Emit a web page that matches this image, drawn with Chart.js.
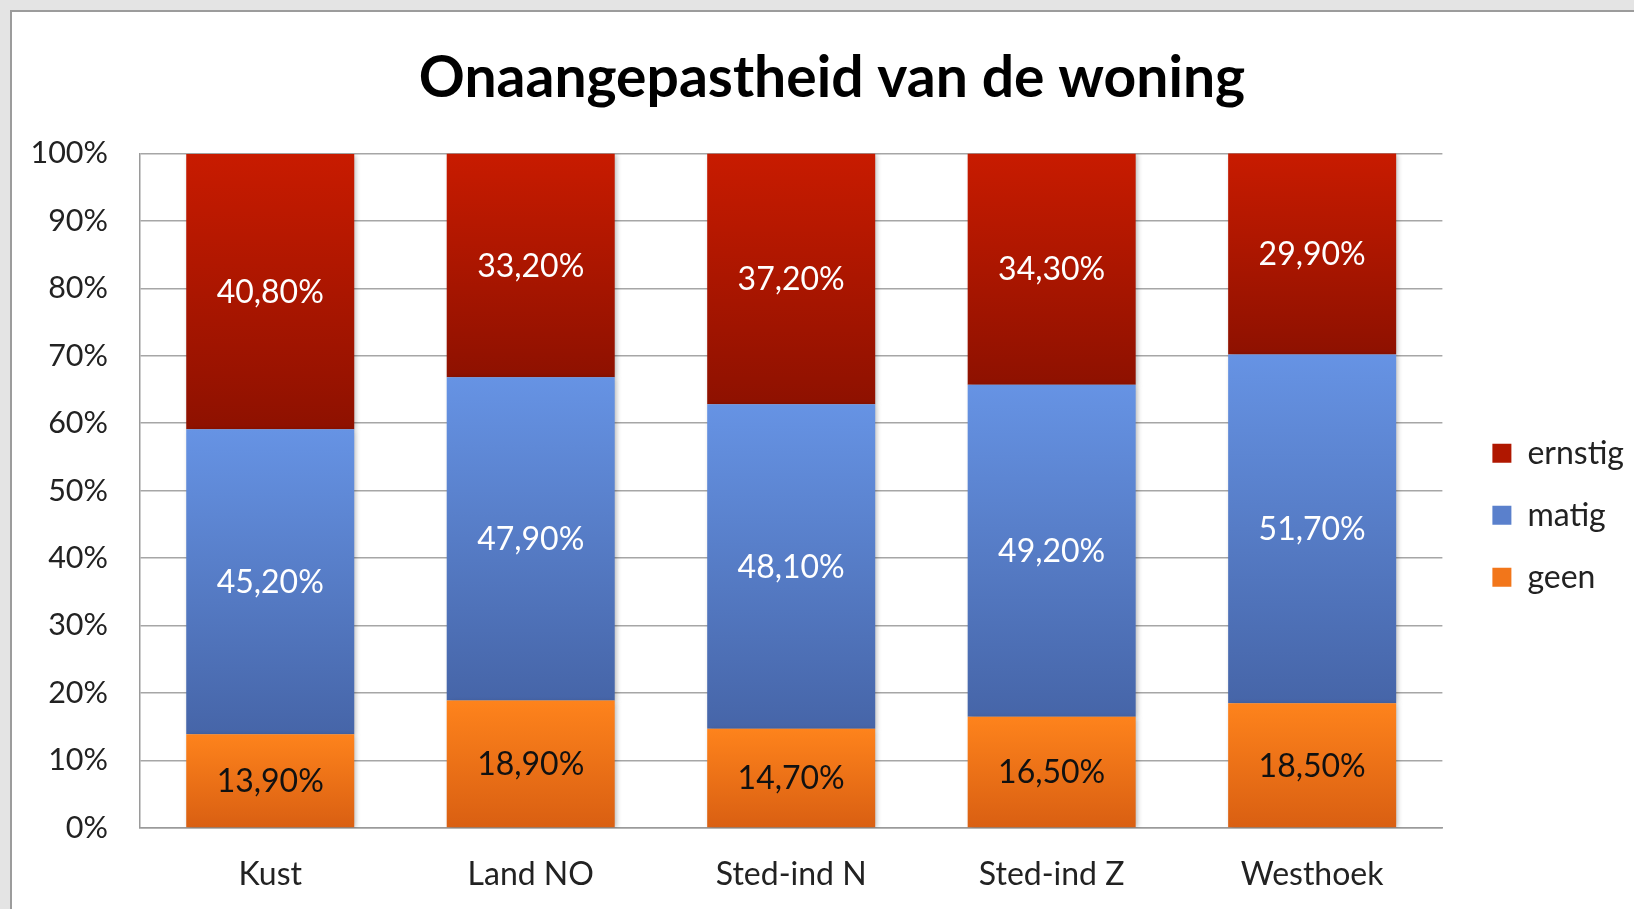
<!DOCTYPE html>
<html>
<head>
<meta charset="utf-8">
<title>Onaangepastheid van de woning</title>
<script src="https://cdn.jsdelivr.net/npm/chart.js@4.4.1/dist/chart.umd.min.js"></script>
<style>
  html, body { margin: 0; padding: 0; background: #e4e4e4; overflow: hidden; }
  .frame { position: absolute; left: 10px; top: 10px; width: 1650px; height: 930px; background: #fff; border: 2px solid #9c9c9c; }
  #chart { position: absolute; left: 0; top: 0; }
</style>
</head>
<body>
<div class="frame"></div>
<canvas id="chart" width="1634" height="909"></canvas>
<script>
/* ----- data ----- */
const regions = ["Kust", "Land NO", "Sted-ind N", "Sted-ind Z", "Westhoek"];
const seriesNames = ["geen", "matig", "ernstig"];
const geen = [13.9, 18.9, 14.7, 16.5, 18.5];
const matig = [45.2, 47.9, 48.1, 49.2, 51.7];
const ernstig = [40.8, 33.2, 37.2, 34.3, 29.9];
const seriesValues = [geen, matig, ernstig];
const yTicks = [0, 10, 20, 30, 40, 50, 60, 70, 80, 90, 100];

/* ----- styling ----- */
const FONT = "Lato, 'Open Sans', sans-serif";
const gradientStops = [
  ["#fe831c", "#d95f12"],   // geen
  ["#6693e4", "#4665a8"],   // matig
  ["#c81b00", "#8e1100"]    // ernstig
];
const legendColors = ["#f2761a", "#5a80cc", "#b01700"];
const labelColors = ["#111111", "#ffffff", "#ffffff"];

// vertical gradient per segment, from its own top to its own bottom
const segmentGradient = (ctx) => {
  const { chart, datasetIndex, dataIndex } = ctx;
  const stops = gradientStops[datasetIndex];
  const y = chart.scales.y;
  if (!y || dataIndex === undefined) return stops[0];
  let start = 0;
  for (let i = 0; i < datasetIndex; i++) start += seriesValues[i][dataIndex];
  const end = Math.min(start + seriesValues[datasetIndex][dataIndex], 100);
  const top = y.getPixelForValue(end);
  const bottom = y.getPixelForValue(start);
  if (!isFinite(top) || !isFinite(bottom) || top === bottom) return stops[0];
  const g = chart.ctx.createLinearGradient(0, top, 0, bottom);
  g.addColorStop(0, stops[0]);
  g.addColorStop(1, stops[1]);
  return g;
};

const formatPct = (v) => v.toFixed(2).replace(".", ",") + "%";

// soft Excel-like shadow behind the bars
const barShadow = {
  id: "barShadow",
  beforeDatasetsDraw(chart) {
    const c = chart.ctx;
    c.save();
    c.shadowColor = "rgba(0,0,0,0.28)";
    c.shadowBlur = 5;
    c.shadowOffsetX = 2;
    c.shadowOffsetY = 1;
  },
  afterDatasetsDraw(chart) {
    chart.ctx.restore();
  }
};

// values in the middle of every segment
const segmentLabels = {
  id: "segmentLabels",
  afterDatasetsDraw(chart) {
    const c = chart.ctx;
    c.save();
    c.font = "32px " + FONT;
    c.textAlign = "center";
    c.textBaseline = "middle";
    chart.data.datasets.forEach((ds, di) => {
      const meta = chart.getDatasetMeta(di);
      c.fillStyle = labelColors[di];
      meta.data.forEach((bar, i) => {
        const top = Math.max(bar.y, chart.chartArea.top);
        c.fillText(formatPct(ds.data[i]), bar.x, (top + bar.base) / 2 + 1);
      });
    });
    c.restore();
  }
};

const datasets = seriesNames.map((name, i) => ({
  label: name,
  data: seriesValues[i],
  backgroundColor: segmentGradient,
  borderWidth: 0,
  categoryPercentage: 1,
  barPercentage: 0.645
}));

new Chart(document.getElementById("chart"), {
  type: "bar",
  data: { labels: regions, datasets },
  plugins: [barShadow, segmentLabels],
  options: {
    responsive: false,
    animation: false,
    events: [],
    layout: { padding: { top: 0, right: 0, bottom: 0, left: 30 } },
    plugins: {
      tooltip: { enabled: false },
      title: {
        display: true,
        text: "Onaangepastheid van de woning",
        color: "#000",
        font: { family: FONT, size: 57, weight: "bold" },
        padding: { top: 44, bottom: 41 }
      },
      legend: {
        position: "right",
        fullSize: false,
        reverse: true,
        title: { display: true, text: "", font: { size: 1 }, padding: { top: 0, bottom: 48 } },
        labels: {
          color: "#222",
          font: { family: FONT, size: 32 },
          boxWidth: 19,
          boxHeight: 19,
          padding: 30,
          generateLabels(chart) {
            const items = Chart.defaults.plugins.legend.labels.generateLabels(chart);
            items.forEach((item) => {
              item.fillStyle = legendColors[item.datasetIndex];
              item.strokeStyle = legendColors[item.datasetIndex];
              item.lineWidth = 0;
            });
            return items;
          }
        }
      }
    },
    scales: {
      x: {
        stacked: true,
        grid: { display: false },
        border: { display: true, color: "#9a9a9a", width: 1.5 },
        ticks: { color: "#222", font: { family: FONT, size: 32 }, padding: 19 },
        afterFit(scale) { scale.height = 81; }
      },
      y: {
        stacked: true,
        min: 0,
        max: 100,
        afterBuildTicks(scale) {
          scale.ticks = yTicks.map((v) => ({ value: v }));
        },
        afterFit(scale) { scale.width = 110; },
        grid: { color: "#a6a6a6", lineWidth: 1.5, drawTicks: false },
        border: { display: true, color: "#9a9a9a", width: 1.5 },
        ticks: {
          color: "#222",
          font: { family: FONT, size: 30.5 },
          padding: 32,
          callback: (v) => v + "%"
        }
      },
      spacer: {
        position: "right",
        display: true,
        grid: { display: false },
        border: { display: false },
        ticks: { display: false },
        afterFit(scale) { scale.width = 20; }
      }
    }
  }
});
</script>
</body>
</html>
